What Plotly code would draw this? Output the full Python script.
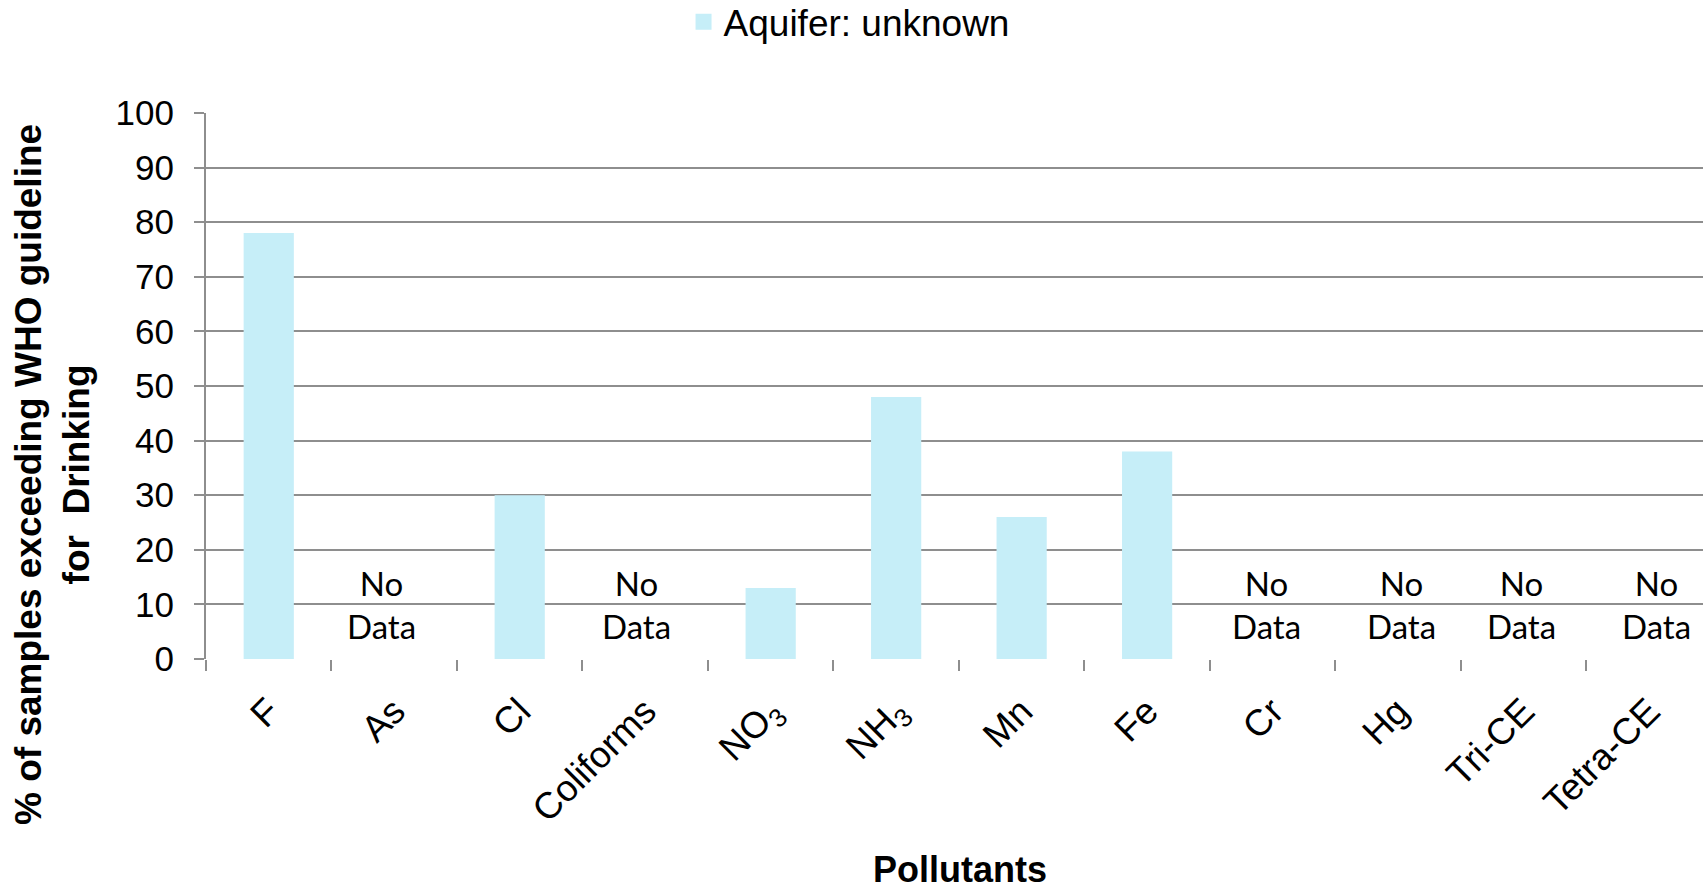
import plotly.graph_objects as go

# Pollutants and share of samples above the WHO drinking-water guideline
pollutants = ["F", "As", "Cl", "Coliforms", "NO<sub>3</sub>", "NH<sub>3</sub>",
              "Mn", "Fe", "Cr", "Hg", "Tri-CE", "Tetra-CE"]
exceed_pct = [78, None, 30, None, 13, 48, 26, 38, None, None, None, None]
series_name = "Aquifer: unknown"

# Categories without measurements, with a small horizontal nudge for the label
no_data = ["As", "Coliforms", "Cr", "Hg", "Tri-CE", "Tetra-CE"]
no_data_nudge = [-0.10, -0.07, -0.05, 0.03, -0.02, 0.06]

y_ticks = list(range(0, 101, 10))

BAR = "#C6EEF8"
GRID = "#8E8E8E"
FONT = "Liberation Sans, Arial, sans-serif"

fig = go.Figure()
fig.add_trace(go.Bar(
    x=list(range(len(pollutants))),
    y=exceed_pct,
    width=0.4,
    marker=dict(color=BAR, line=dict(width=0)),
    name=series_name,
    legendgroup="s",
    showlegend=False,
))
# Legend entry with a larger square swatch for the bar series
fig.add_trace(go.Scatter(
    x=[None], y=[None], mode="markers",
    marker=dict(symbol="square", size=19, color=BAR, line=dict(width=0)),
    name=series_name, legendgroup="s", showlegend=True,
))

annotations = []
for name, dx in zip(no_data, no_data_nudge):
    idx = pollutants.index(name)
    annotations.append(dict(
        x=idx + dx, y=9.9, xref="x", yref="y",
        text="No<br>Data", showarrow=False,
        font=dict(family="Lato, Open Sans, sans-serif", size=33, color="#000"),
        align="center", xanchor="center", yanchor="middle",
    ))

# Y axis title (two lines, rotated)
annotations.append(dict(
    x=0, y=0.337, xref="paper", yref="paper", xshift=-153,
    text="<b>% of samples exceeding WHO guideline<br>for  Drinking</b>",
    textangle=-90, showarrow=False, xanchor="center", yanchor="middle",
    font=dict(family=FONT, size=37, color="#000"), align="center",
))
# X axis title
annotations.append(dict(
    x=0.504, y=0, xref="paper", yref="paper", yshift=-210,
    text="<b>Pollutants</b>", showarrow=False,
    xanchor="center", yanchor="middle",
    font=dict(family=FONT, size=36, color="#000"),
))

fig.update_layout(
    width=1703, height=890,
    margin=dict(l=206, r=0, t=113, b=231, pad=0, autoexpand=False),
    paper_bgcolor="white", plot_bgcolor="white",
    font=dict(family=FONT, size=30, color="#000"),
    legend=dict(orientation="h", x=0.319, y=1.223, xanchor="left", yanchor="top",
                xref="paper", yref="paper",
                font=dict(family=FONT, size=37, color="#000"),
                itemwidth=30, bgcolor="rgba(0,0,0,0)"),
    annotations=annotations,
    bargap=0.6,
)

fig.update_xaxes(
    type="linear",
    range=[-0.5, 11.43],
    tickmode="array",
    tickvals=list(range(len(pollutants))),
    ticktext=pollutants,
    tickangle=-45,
    ticks="",
    showgrid=False,
    zeroline=False,
    showline=False,
    ticklabelstandoff=22,
    tickfont=dict(family=FONT, size=37, color="#000"),
)
# Boundary ticks between categories
fig.update_xaxes(
    minor=dict(tickmode="array", tickvals=[i - 0.5 for i in range(len(pollutants) + 1)],
               ticks="outside", ticklen=11, tickwidth=2, tickcolor=GRID, showgrid=False),
)

fig.update_yaxes(
    range=[0, 100],
    tickmode="array",
    tickvals=y_ticks,
    ticks="outside", ticklen=10, tickwidth=2, tickcolor=GRID,
    showgrid=True, gridcolor=GRID, gridwidth=2,
    showline=True, linecolor=GRID, linewidth=2,
    zeroline=False,
    ticklabelstandoff=13,
    tickfont=dict(family=FONT, size=35, color="#000"),
)

fig.write_html("out.html")
